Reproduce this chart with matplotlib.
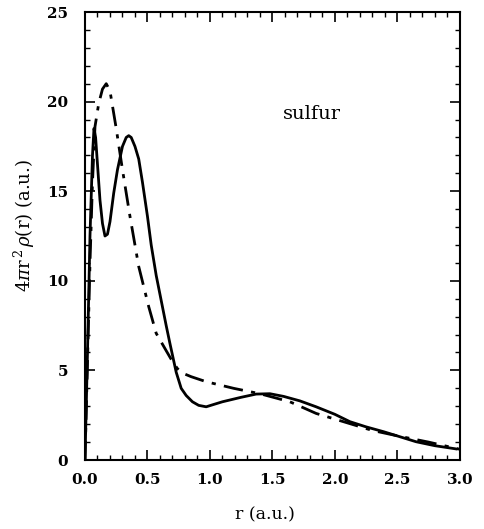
import matplotlib
matplotlib.use("Agg")
import matplotlib.pyplot as plt
from matplotlib.ticker import MultipleLocator

# Solid curve
r_solid = [0, 0.02, 0.04, 0.06, 0.072, 0.085, 0.1, 0.12, 0.14, 0.16, 0.18, 0.2, 0.23, 0.26,
           0.3, 0.33, 0.35, 0.37, 0.4, 0.43, 0.46, 0.5, 0.53, 0.57, 0.61, 0.65, 0.68, 0.73,
           0.77, 0.81, 0.86, 0.91, 0.97, 1.03, 1.1, 1.16, 1.25, 1.37, 1.48, 1.59, 1.72,
           1.85, 2.0, 2.12, 2.25, 2.39, 2.52, 2.65, 2.8, 2.97]
v_solid = [0, 6.0, 12.5, 17.0, 18.5, 18.0, 16.5, 14.5, 13.2, 12.5, 12.6, 13.3, 14.9, 16.2,
           17.5, 18.0, 18.1, 18.0, 17.5, 16.8, 15.5, 13.6, 12.0, 10.3, 8.9, 7.5, 6.5, 4.9,
           4.0, 3.6, 3.25, 3.05, 2.97, 3.1, 3.25, 3.35, 3.5, 3.68, 3.7, 3.55, 3.3,
           2.97, 2.55, 2.14, 1.85, 1.58, 1.3, 1.02, 0.8, 0.62]

# Dash-dot curve
r_dash = [0, 0.02, 0.04, 0.06, 0.08, 0.11, 0.14, 0.17, 0.2, 0.25, 0.3, 0.36, 0.43, 0.51,
          0.57, 0.65, 0.7, 0.74, 0.78, 0.85, 0.97, 1.19, 1.4, 1.64, 1.85, 2.04, 2.3, 2.5,
          2.75, 3.0]
v_dash = [0, 5.5, 11.0, 15.5, 18.6, 19.9, 20.7, 21.0, 20.6, 18.5, 16.2, 13.6, 10.8, 8.56,
          7.07, 6.1, 5.5, 5.1, 4.85, 4.65, 4.37, 4.0, 3.7, 3.25, 2.6, 2.2, 1.65, 1.35,
          1.0, 0.6]

x_ticks = [0.0, 0.5, 1.0, 1.5, 2.0, 2.5, 3.0]
y_ticks = [0, 5, 10, 15, 20, 25]

plt.rcParams['font.family'] = ['DejaVu Serif']
plt.rcParams['mathtext.fontset'] = 'dejavuserif'

fig = plt.figure(figsize=(4.84, 5.29), dpi=100)
ax = fig.add_axes([0.1756, 0.1304, 0.7744, 0.8469])

ax.plot(r_solid, v_solid, color='black', lw=2.0, ls='-')
ax.plot(r_dash, v_dash, color='black', lw=2.0, ls=(0, (7, 3, 1.5, 3)))

ax.set_xlim(0, 3.0)
ax.set_ylim(0, 25)
ax.set_xticks(x_ticks)
ax.set_yticks(y_ticks)
ax.set_xticklabels([f"{t:.1f}" for t in x_ticks], fontweight='bold', fontsize=11)
ax.set_yticklabels([str(t) for t in y_ticks], fontweight='bold', fontsize=11)
ax.xaxis.set_minor_locator(MultipleLocator(0.1))
ax.yaxis.set_minor_locator(MultipleLocator(1))
ax.tick_params(which='both', direction='in', top=True, right=True)
ax.tick_params(which='major', length=7, width=1.2)
ax.tick_params(axis='x', which='major', pad=9)
ax.tick_params(axis='y', which='major', pad=12)
ax.tick_params(which='minor', length=3.5, width=1.0)
for s in ax.spines.values():
    s.set_linewidth(1.5)

fig.text(265 / 484, 1 - 515 / 529, 'r (a.u.)', fontsize=12.5, ha='center', va='center')
fig.text(24 / 484, 1 - 226 / 529, r'4$\pi$r$^{\,2}\,\rho$(r) (a.u.)', fontsize=13,
         ha='center', va='center', rotation=90)
ax.text(1.82, 19.3, 'sulfur', fontsize=14, ha='center', va='center')

fig.savefig('out.png', dpi=100)
